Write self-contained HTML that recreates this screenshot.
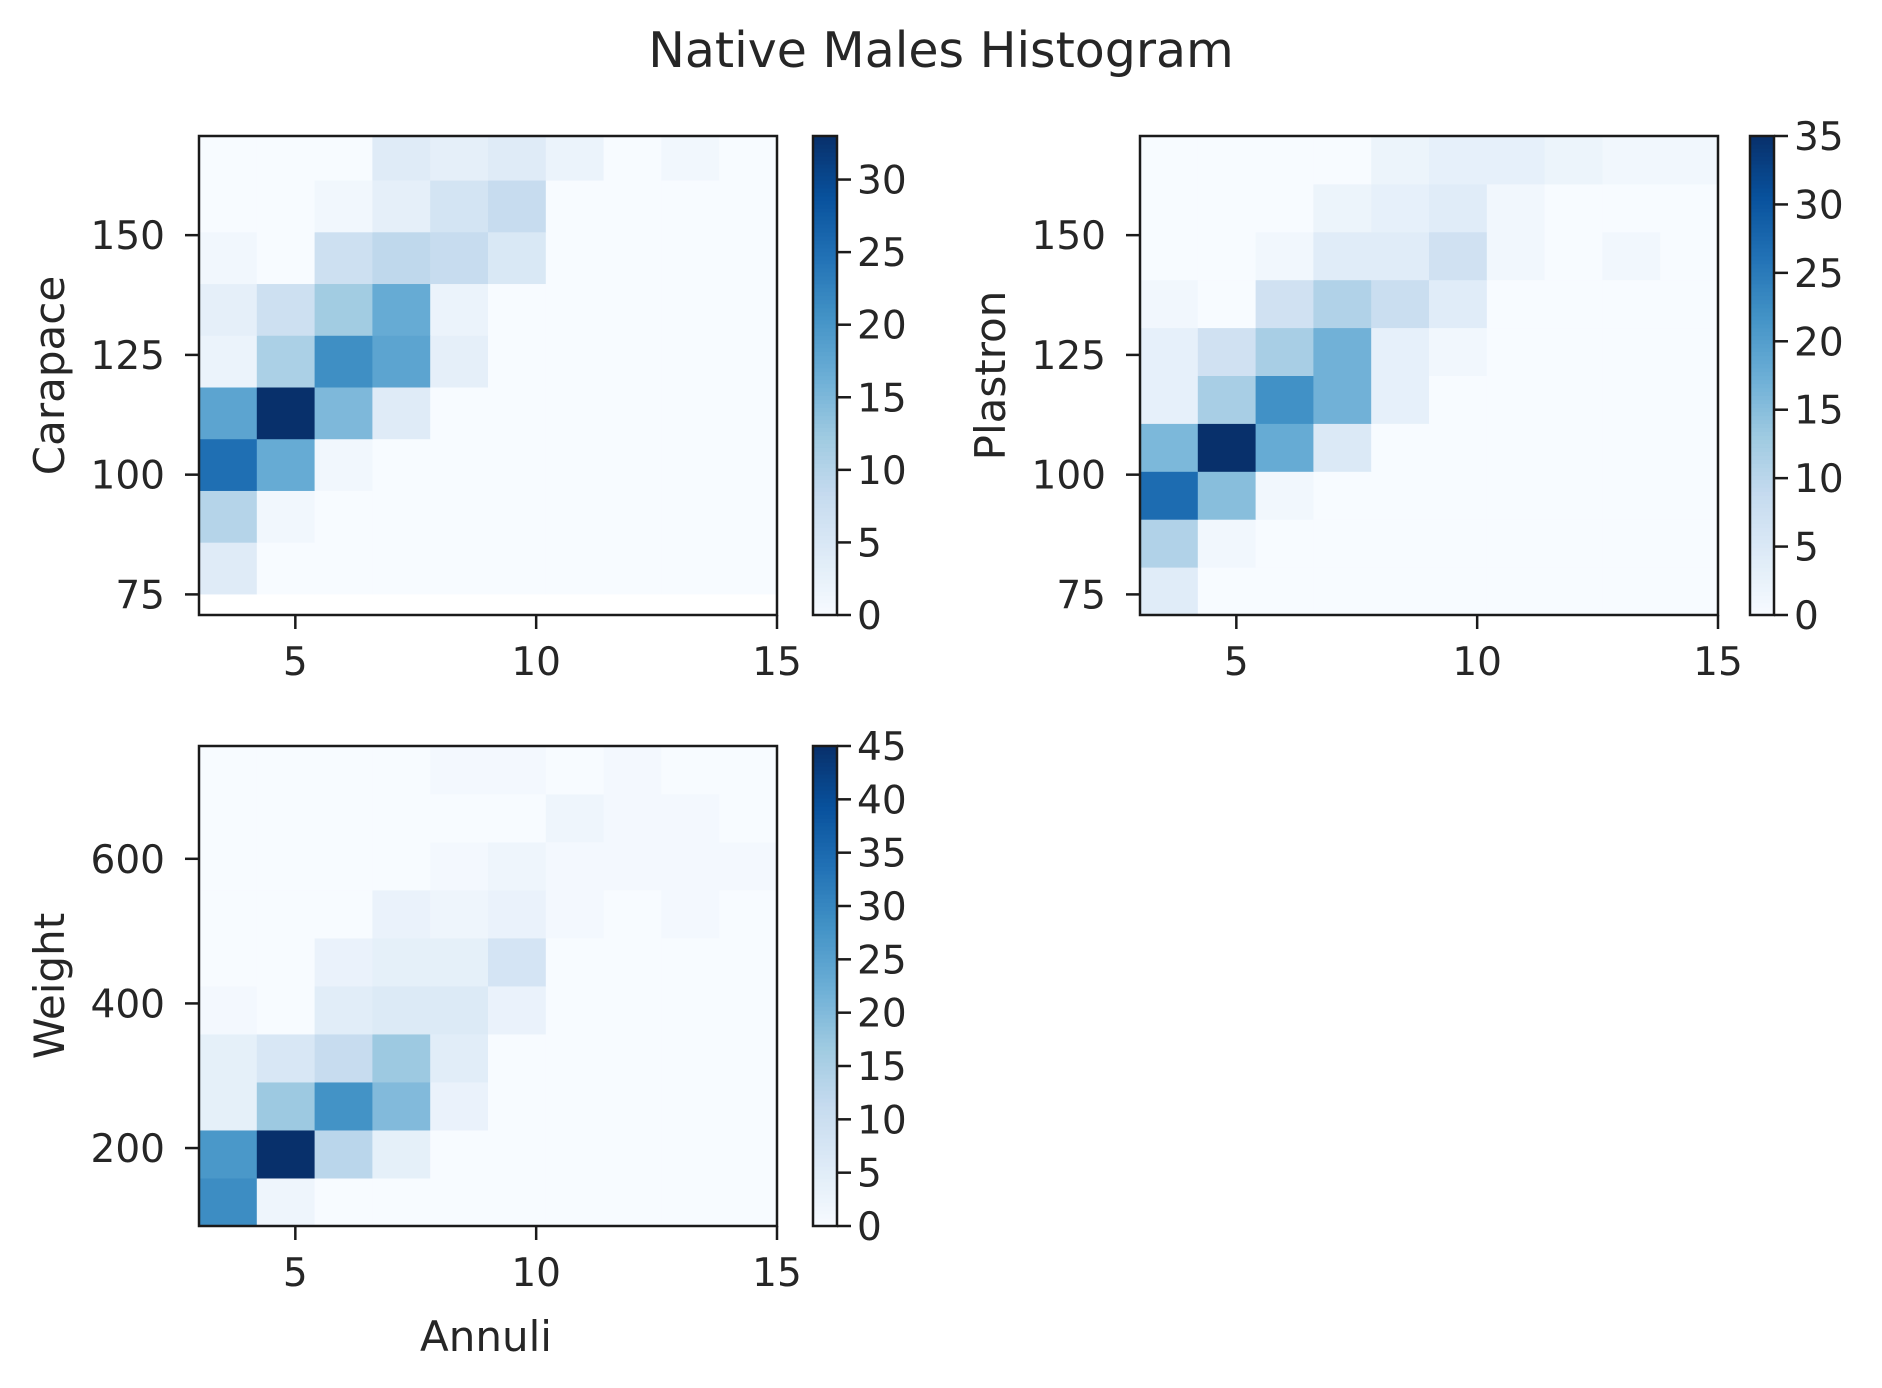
<!DOCTYPE html>
<html><head><meta charset="utf-8">
<style>
html,body{margin:0;padding:0;background:#fff;}
svg text{font-family:"DejaVu Sans","Liberation Sans",sans-serif;fill:#262626;}
</style></head>
<body>
<svg id="fig" width="1882" height="1383" xmlns="http://www.w3.org/2000/svg">
<rect width="1882" height="1383" fill="#fff"/>
<text x="941" y="67" font-size="49" text-anchor="middle">Native Males Histogram</text>
</svg>
<script>
// shared x bins (Annuli)
const xEdgesStart = 3, xBinWidth = 1.2, xBinCount = 10;
const xTicks = [5, 10, 15];
// Carapace (rows bottom->top, 10 columns)
const carapaceYStart = 75.1, carapaceYBin = 10.8;
const carapaceCounts = [
 [4,0,0,0,0,0,0,0,0,0],
 [10,1,0,0,0,0,0,0,0,0],
 [25,17,1,0,0,0,0,0,0,0],
 [18,33,15,4,0,0,0,0,0,0],
 [2,11,21,18,3,0,0,0,0,0],
 [3,7,12,17,2,0,0,0,0,0],
 [1,0,7,9,8,5,0,0,0,0],
 [0,0,1,3,6,8,0,0,0,0],
 [0,0,0,4,3,4,2,0,1,0]
];
const carapaceYTicks = [75, 100, 125, 150];
const carapaceCbTicks = [0,5,10,15,20,25,30];
// Plastron
const plastronYStart = 70.7, plastronYBin = 10;
const plastronCounts = [
 [4,0,0,0,0,0,0,0,0,0],
 [11,1,0,0,0,0,0,0,0,0],
 [27,15,1,0,0,0,0,0,0,0],
 [16,35,18,5,0,0,0,0,0,0],
 [3,12,22,17,3,0,0,0,0,0],
 [3,7,12,17,3,1,0,0,0,0],
 [1,0,7,11,8,4,0,0,0,0],
 [0,0,1,4,4,7,1,0,1,0],
 [0,0,0,2,3,4,1,0,0,0],
 [0,0,0,0,2,3,3,2,1,1]
];
const plastronYTicks = [75, 100, 125, 150];
const plastronCbTicks = [0,5,10,15,20,25,30,35];
// Weight
const weightYStart = 92.2, weightYBin = 66.4;
const weightCounts = [
 [29,2,0,0,0,0,0,0,0,0],
 [27,45,13,4,0,0,0,0,0,0],
 [4,17,28,20,3,0,0,0,0,0],
 [4,7,11,17,5,0,0,0,0,0],
 [1,0,5,6,6,3,0,0,0,0],
 [0,0,3,4,4,8,0,0,0,0],
 [0,0,0,3,2,3,1,0,1,0],
 [0,0,0,0,1,2,1,1,1,1],
 [0,0,0,0,0,0,2,1,1,0],
 [0,0,0,0,1,1,0,1,0,0]
];
const weightYTicks = [200, 400, 600];
const weightCbTicks = [0,5,10,15,20,25,30,35,40,45];

const NS = "http://www.w3.org/2000/svg";
const svg = document.getElementById('fig');
const blues = ["#f7fbff","#deebf7","#c6dbef","#9ecae1","#6baed6","#4292c6","#2171b5","#08519c","#08306b"];
function hex(c){return [1,3,5].map(i=>parseInt(c.substr(i,2),16));}
function cmap(t){
  t=Math.max(0,Math.min(1,t));
  const p=t*(blues.length-1), i=Math.min(blues.length-2,Math.floor(p)), f=p-i;
  const a=hex(blues[i]), b=hex(blues[i+1]);
  return "rgb("+a.map((v,k)=>Math.round(v+(b[k]-v)*f)).join(",")+")";
}
function mk(tag, attrs, parent){
  const e=document.createElementNS(NS,tag);
  for(const k in attrs) e.setAttribute(k, attrs[k]);
  (parent||svg).appendChild(e); return e;
}
const TF=39, LF=42;
function panel(cfg){
  const {L,R,T,B,xmin,xmax,ymin,ymax,counts,yStart,yBin,yTicks,vmax,cbTicks,cbL,ylabel,id}=cfg;
  const g=mk('g',{});
  
  
  const sx=v=>L+(v-xmin)/(xmax-xmin)*(R-L);
  const sy=v=>B-(v-ymin)/(ymax-ymin)*(B-T);
  const clipId='clip-'+id;
  const cp=mk('clipPath',{id:clipId},g);
  mk('rect',{x:L,y:T,width:R-L,height:B-T},cp);
  const cg=mk('g',{'clip-path':'url(#'+clipId+')'},g);
  counts.forEach((row,r)=>{
    row.forEach((v,c)=>{
      const x0=sx(xEdgesStart+c*xBinWidth), x1=sx(xEdgesStart+(c+1)*xBinWidth);
      const y0=sy(yStart+r*yBin), y1=sy(yStart+(r+1)*yBin);
      const rc=mk('rect',{x:x0,y:y1,width:x1-x0+0.5,height:y0-y1+0.5,fill:cmap(v/vmax)},cg);
      
      
    });
  });
  const fr=mk('rect',{x:L,y:T,width:R-L,height:B-T,fill:'none',stroke:'#1a1a1a','stroke-width':2.5},g);
  
  
  xTicks.forEach(v=>{
    const x=sx(v);
    mk('line',{x1:x,x2:x,y1:B,y2:B+14,stroke:'#1a1a1a','stroke-width':2.5},g);
    const t=mk('text',{x:x,y:B+60,'font-size':TF,'text-anchor':'middle'},g);
    t.textContent=v;
    
    
  });
  yTicks.forEach(v=>{
    const y=sy(v);
    mk('line',{x1:L,x2:L-14,y1:y,y2:y,stroke:'#1a1a1a','stroke-width':2.5},g);
    const t=mk('text',{x:L-34,y:y+14,'font-size':TF,'text-anchor':'end'},g);
    t.textContent=v;
    
    
  });
  const yl=mk('text',{x:0,y:0,'font-size':LF,'text-anchor':'middle',transform:'translate('+(L-135)+','+((T+B)/2)+') rotate(-90)'},g);
  yl.textContent=ylabel;
  
  
  // colorbar
  const cbW=24, steps=120;
  const cbg=mk('g',{},g);
  
  
  const cy=v=>B-v/vmax*(B-T);
  for(let i=0;i<steps;i++){
    const v0=i/steps*vmax, v1=(i+1)/steps*vmax;
    mk('rect',{x:cbL,y:cy(v1),width:cbW,height:cy(v0)-cy(v1)+0.6,fill:cmap((i+0.5)/steps)},cbg);
  }
  mk('rect',{x:cbL,y:T,width:cbW,height:B-T,fill:'none',stroke:'#1a1a1a','stroke-width':2.5},cbg);
  cbTicks.forEach(v=>{
    const y=cy(v);
    mk('line',{x1:cbL+cbW,x2:cbL+cbW+14,y1:y,y2:y,stroke:'#1a1a1a','stroke-width':2.5},cbg);
    const t=mk('text',{x:cbL+cbW+20,y:y+14,'font-size':TF},cbg);
    t.textContent=v;
    
    
  });
}
panel({id:'carapace',L:199,R:777,T:136,B:615,xmin:3,xmax:15,ymin:70.7,ymax:170.7,counts:carapaceCounts,yStart:carapaceYStart,yBin:carapaceYBin,yTicks:carapaceYTicks,vmax:33,cbTicks:carapaceCbTicks,cbL:813,ylabel:'Carapace'});
panel({id:'plastron',L:1140,R:1718,T:136,B:615,xmin:3,xmax:15,ymin:70.7,ymax:170.7,counts:plastronCounts,yStart:plastronYStart,yBin:plastronYBin,yTicks:plastronYTicks,vmax:35,cbTicks:plastronCbTicks,cbL:1750,ylabel:'Plastron'});
panel({id:'weight',L:199,R:777,T:746,B:1226,xmin:3,xmax:15,ymin:92.2,ymax:756,counts:weightCounts,yStart:weightYStart,yBin:weightYBin,yTicks:weightYTicks,vmax:45,cbTicks:weightCbTicks,cbL:813,ylabel:'Weight'});
const xl=mk('text',{x:486,y:1351,'font-size':LF,'text-anchor':'middle'});
xl.textContent='Annuli';


</script>
</body></html>
